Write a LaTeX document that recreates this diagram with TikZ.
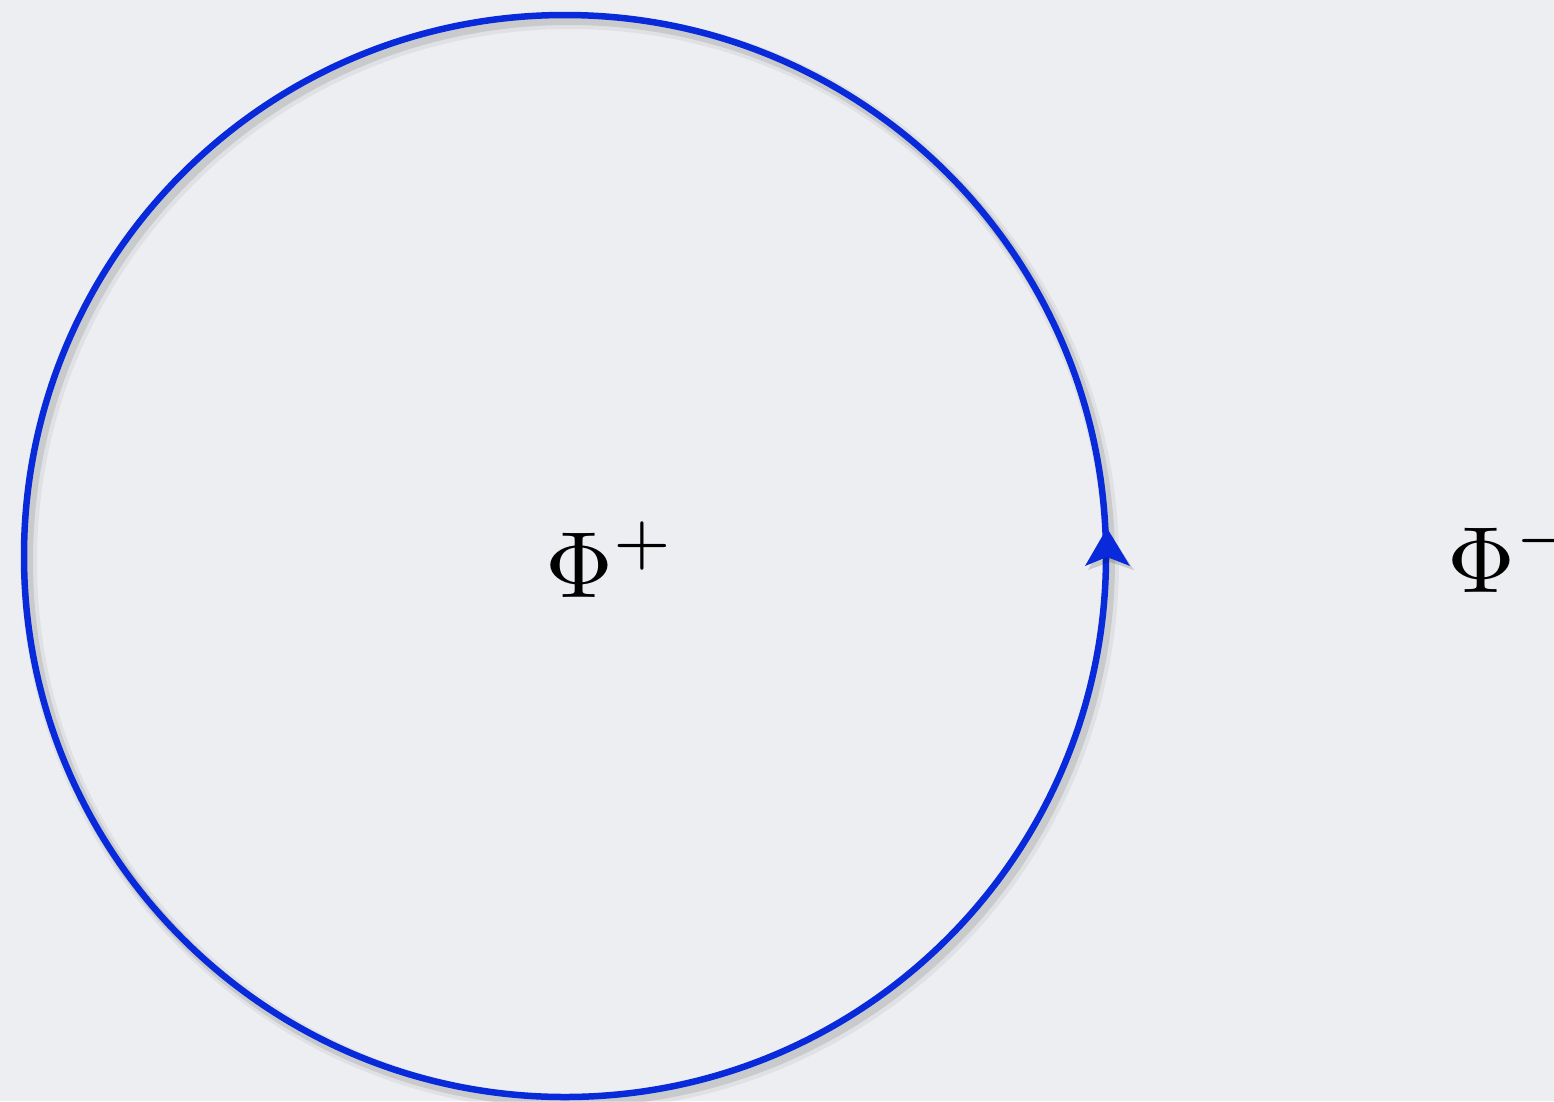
\documentclass[tikz,border=0pt]{standalone}
\usetikzlibrary{calc}
\definecolor{bg}{RGB}{237,238,241}
\definecolor{loopblue}{RGB}{8,42,218}
\begin{document}
\begin{tikzpicture}[x=1pt,y=-1pt,
  loop/.style={draw=loopblue,line width=6.5pt},
  shadowline/.style={draw=black,opacity=0.10,line width=10pt},
  label/.style={inner sep=0pt,anchor=base west,scale=9.4}]
\fill[bg] (0,0) rectangle (1554,1101);
\useasboundingbox (0,0) rectangle (1554,1101);
\coordinate (c) at (565,556);
% soft shadow
\draw[shadowline] ($(c)+(4,5)$) circle[radius=541];
\draw[draw=black,opacity=0.05,line width=16pt] ($(c)+(5,6)$) circle[radius=541];
% loop
\draw[loop] (c) circle[radius=541];
% arrowhead
\coordinate (tip) at (1107,528);
\fill[black,opacity=0.15] (1109,532) -- (1134,570) -- (1110,562) -- (1088,570) -- cycle;
\fill[loopblue] (tip) -- (1130,566) -- (1107,557) -- (1085,566) -- cycle;
% labels
\node[label] (phiplus) at (544,597) {$\Phi^+$};
\node[label] (phiminus) at (1446,592) {$\Phi^-$};
\end{tikzpicture}
\end{document}
